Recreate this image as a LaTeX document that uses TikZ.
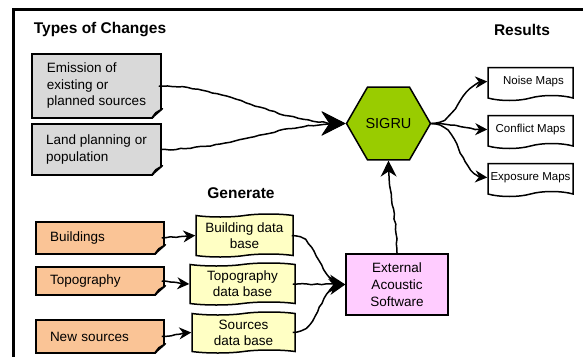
\documentclass[tikz,border=0pt]{standalone}
\usepackage{fontspec}
\setmainfont{Liberation Sans}
\usetikzlibrary{shapes.geometric,shapes.symbols,arrows.meta,decorations.pathmorphing}

\definecolor{notegray}{HTML}{D9D9D9}
\definecolor{peach}{HTML}{FAC496}
\definecolor{paleyellow}{HTML}{FFFFC4}
\definecolor{lilac}{HTML}{FFCCFF}
\definecolor{sigrugreen}{HTML}{99CC00}

\tikzset{
    title/.style={font=\bfseries\fontsize{15.5}{18}\selectfont},
    change/.style={draw,line width=1.5pt,fill=notegray,minimum width=129pt,align=left,
        font=\fontsize{13.5}{16.5}\selectfont},
    source/.style={draw,line width=1.5pt,fill=peach,minimum width=128pt,inner xsep=14pt,text width=100pt,
        align=left,font=\fontsize{13.5}{16.5}\selectfont},
    database/.style={tape,draw,line width=1.5pt,fill=paleyellow,inner sep=1pt,align=center,
        tape bend height=3pt,font=\fontsize{13.5}{16}\selectfont},
    result/.style={tape,tape bend top=none,draw,line width=1.5pt,fill=white,inner sep=1pt,
        tape bend height=5pt,minimum width=85pt,minimum height=33pt,font=\fontsize{11.5}{13}\selectfont},
    wobbly/.style={line width=1.5pt,decorate,decoration={random steps,segment length=5pt,amplitude=0.6pt,
        pre length=4pt,post length=8pt}},
    bigtip/.style={-{Stealth[length=24pt,width=24pt]}},
    midtip/.style={-{Stealth[length=16pt,width=16pt]}},
    smalltip/.style={-{Stealth[length=12pt,width=12pt]}},
}

\begin{document}
\begin{tikzpicture}[x=1pt,y=-1pt]
    \useasboundingbox (0,0) rectangle (583,356);
    \pgfmathsetseed{7}

    % frame
    \draw[line width=3pt] (13,358) -- (13,9) -- (585,9);

    % titles
    \node[title] (tchanges) at (100,30) {Types of Changes};
    \node[title] (tresults) at (522,30) {Results};
    \node[title] (tgenerate) at (241,193) {Generate};

    % types of changes
    \node[change,minimum height=64pt] (emis) at (96.5,86) {Emission of\\existing or\\planned sources};
    \node[change,minimum height=51pt] (land) at (96.5,149.5) {Land planning or\\population};

    % sources
    \node[source,minimum height=32pt] (bld) at (100,238) {Buildings};
    \node[source,minimum height=28pt] (topo) at (100,281) {Topography};
    \node[source,minimum height=33pt] (newsrc) at (100,336.5) {New sources};

    % dog ears
    \foreach \n in {emis,land,bld,topo,newsrc} {
        \fill[white] ([xshift=-10pt,yshift=-1pt]\n.south east) -- ([xshift=1pt,yshift=-1pt]\n.south east)
            -- ([xshift=1pt,yshift=10pt]\n.south east) -- cycle;
        \draw[line width=1.5pt,fill=white,line join=round] ([xshift=-10pt,yshift=0.7pt]\n.south east)
            -- ([xshift=0.7pt,yshift=10pt]\n.south east) -- ([xshift=-6pt,yshift=6pt]\n.south east) -- cycle;
    }

    % data bases
    \node[database,minimum width=97pt,minimum height=43pt] (bdb) at (244.5,235.5) {Building data\\base};
    \node[database,minimum width=105pt,minimum height=42pt] (tdb) at (242.5,284) {Topography\\data base};
    \node[database,minimum width=103pt,minimum height=41pt] (sdb) at (243.5,332.5) {Sources\\data base};

    % software and sigru
    \node[draw,line width=1.5pt,fill=lilac,minimum width=102pt,minimum height=61pt,align=center,
        font=\fontsize{13.5}{17}\selectfont] (ext) at (397,284.5) {External\\Acoustic\\Software};
    \node[regular polygon,regular polygon sides=6,draw,line width=1.5pt,fill=sigrugreen,
        minimum size=84pt,inner sep=0pt,font=\fontsize{14.5}{16}\selectfont] (sigru) at (388.5,123.5) {SIGRU};

    % results
    \node[result] (noise) at (530.5,81.5) {\hspace{6pt}Noise Maps};
    \node[result] (conflict) at (530.5,129.5) {Conflict Maps};
    \node[result] (expo) at (530.5,177.5) {Exposure Maps};

    % connectors
    \draw[wobbly,bigtip] ([xshift=-3pt]emis.east) to[out=0,in=180] (sigru.west);
    \draw[wobbly,bigtip] (land.east) to[out=0,in=180] (sigru.west);

    \draw[wobbly,smalltip] (sigru.east) to[out=0,in=180] (noise.west);
    \draw[wobbly,smalltip] (sigru.east) to[out=0,in=180] (conflict.west);
    \draw[wobbly,smalltip] (sigru.east) to[out=0,in=180] (expo.west);

    \draw[wobbly,smalltip] ([xshift=-3pt]bld.east) -- (bdb.west);
    \draw[wobbly,smalltip] ([xshift=-3pt]topo.east) to[out=0,in=180] (tdb.west);
    \draw[wobbly,smalltip] ([xshift=-3pt]newsrc.east) to[out=0,in=180] (sdb.west);

    \draw[wobbly,midtip] ([xshift=-2pt]bdb.east) to[out=0,in=180] (ext.west);
    \draw[wobbly,midtip] ([xshift=-3pt]tdb.east) -- (ext.west);
    \draw[wobbly,midtip] ([xshift=-3pt]sdb.east) to[out=0,in=180] (ext.west);

    \draw[wobbly,midtip] (ext.north) to[out=90,in=-90] (sigru.south);
\end{tikzpicture}
\end{document}
